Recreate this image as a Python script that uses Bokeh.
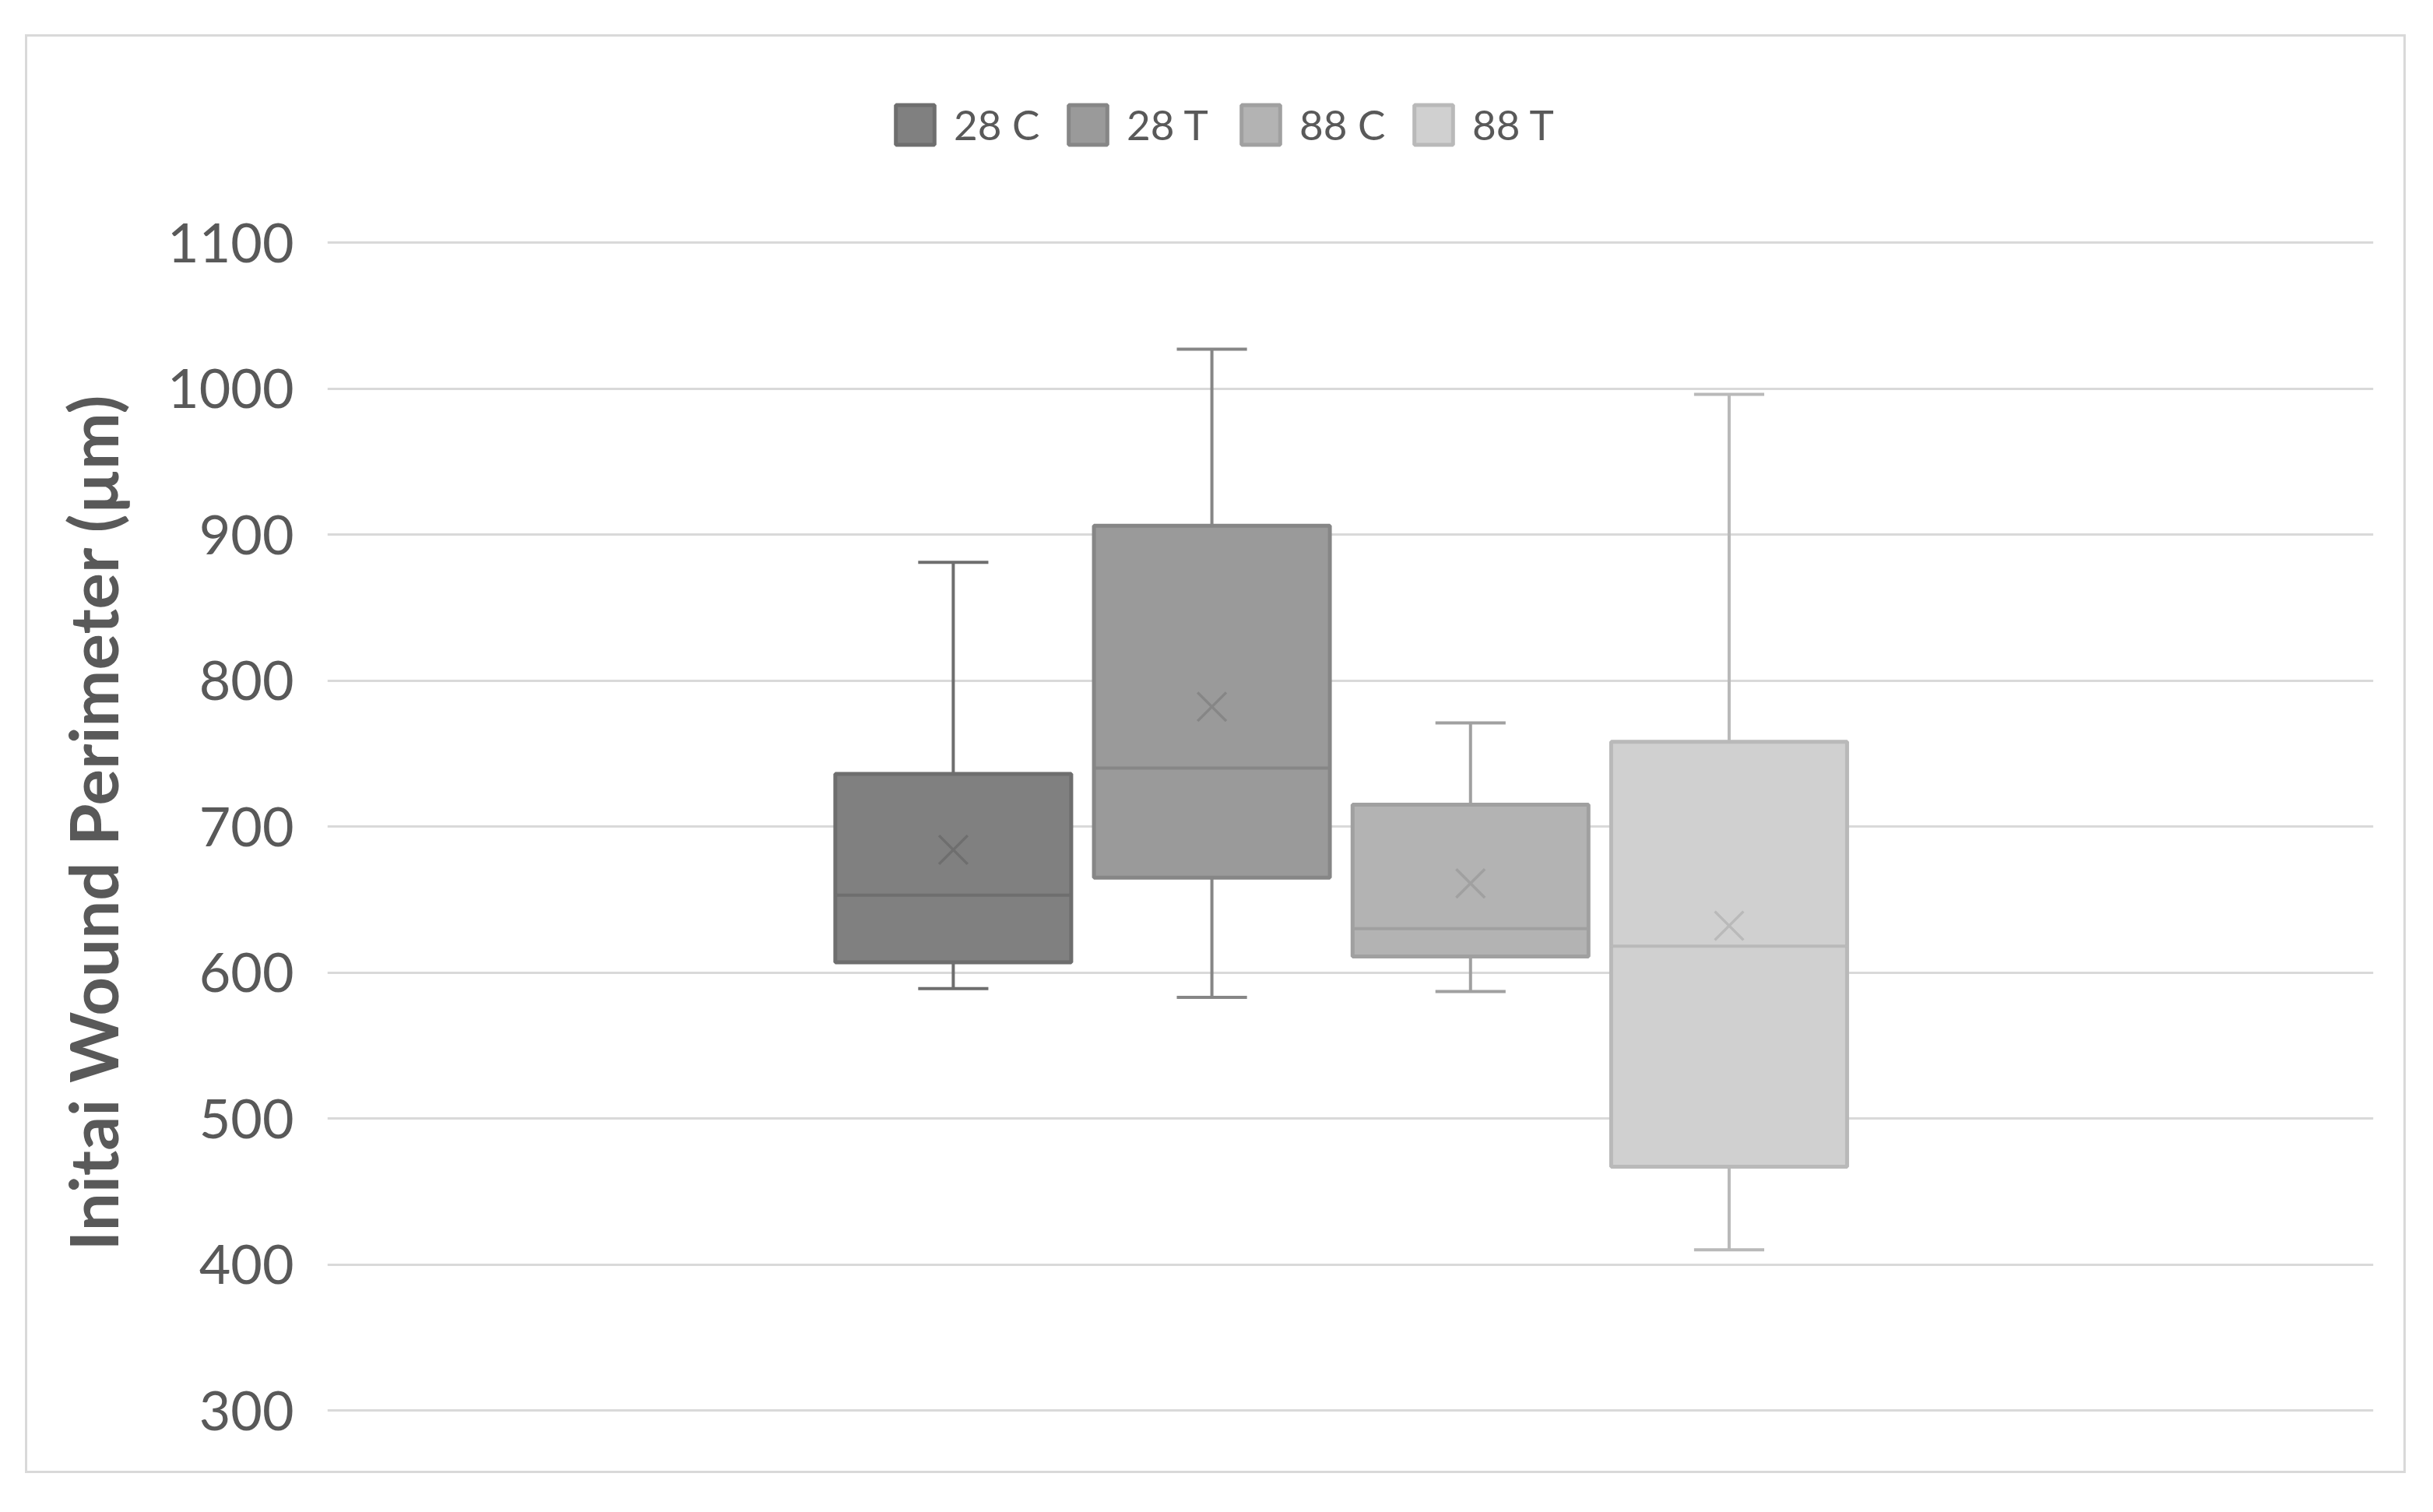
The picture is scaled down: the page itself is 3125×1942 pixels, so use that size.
from bokeh.plotting import figure
from bokeh.models import Range1d, FixedTicker, Legend, LegendItem, InlineStyleSheet, Title
from bokeh.embed import file_html
from bokeh.resources import INLINE

# ---- data ----
categories = ["28 C", "28 T", "88 C", "88 T"]
whisker_low = [589, 583, 587, 410]
q1 = [607, 665, 611, 467]
median = [653, 740, 630, 618]
q3 = [736, 906, 715, 758]
whisker_high = [881, 1027, 771, 996]
mean = [684, 782, 661, 632]
y_ticks = [300, 400, 500, 600, 700, 800, 900, 1000, 1100]
y_title = "Initai Wound Perimeter (µm)"

# ---- styles ----
fill_colors = ["#808080", "#9a9a9a", "#b3b3b3", "#d0d0d0"]
line_colors = ["#6e6e6e", "#868686", "#a0a0a0", "#b9b9b9"]
FONT = "Lato"
TXT = "#595959"

W, H = 3109, 1926
FL, FR, FT, FB = 420, 3048, 100, 1813      # frame edges in pixels
Y_TOP_PX, Y_BOT_PX = 311, 1811              # pixel rows of 1100 and 300
ppu = (Y_BOT_PX - Y_TOP_PX) / 800.0
y0 = 300 - (FB - Y_BOT_PX) / ppu
y1 = 1100 + (Y_TOP_PX - FT) / ppu

p = figure(width=W, height=H, output_backend="svg", toolbar_location=None,
           title_location=None,
           x_range=Range1d(0, 1), y_range=Range1d(y0, y1),
           min_border_left=FL, min_border_right=W - FR,
           min_border_top=FT, min_border_bottom=H - FB)
p.background_fill_color = "white"
p.border_fill_color = "white"
p.outline_line_color = None
p.xaxis.visible = False
p.xgrid.visible = False
p.ygrid.grid_line_color = "#d9d9d9"
p.ygrid.grid_line_width = 3

ax = p.yaxis[0]
ax.ticker = FixedTicker(ticks=y_ticks)
ax.axis_line_color = None
ax.major_tick_line_color = None
ax.minor_tick_line_color = None
ax.major_tick_in = 0
ax.major_tick_out = 0
ax.major_label_standoff = 43
ax.major_label_text_font = FONT
ax.major_label_text_font_size = "70px"
ax.major_label_text_color = TXT

# y-axis title, placed to sit centred on the 300-1100 plot area
p.add_layout(Title(text=y_title, align="left", offset=207, standoff=84,
                   text_font=FONT, text_font_size="87px", text_font_style="bold",
                   text_color=TXT), "left")

center0, pitch, box_w, cap_w = 0.4955, 0.1264, 0.1153, 0.0343

items = []
for i, cat in enumerate(categories):
    c = center0 + (i - 1.5) * pitch
    lc = line_colors[i]
    r = p.quad(left=[c - box_w / 2], right=[c + box_w / 2], bottom=[q1[i]], top=[q3[i]],
               fill_color=fill_colors[i], line_color=lc, line_width=5)
    p.segment(x0=[c - box_w / 2], x1=[c + box_w / 2], y0=[median[i]], y1=[median[i]],
              line_color=lc, line_width=4)
    p.segment(x0=[c, c], x1=[c, c], y0=[q3[i], q1[i]], y1=[whisker_high[i], whisker_low[i]],
              line_color=lc, line_width=4)
    p.segment(x0=[c - cap_w / 2, c - cap_w / 2], x1=[c + cap_w / 2, c + cap_w / 2],
              y0=[whisker_high[i], whisker_low[i]], y1=[whisker_high[i], whisker_low[i]],
              line_color=lc, line_width=4)
    p.scatter(x=[c], y=[mean[i]], marker="x", size=52, line_color=lc, line_width=3.5)
    items.append(LegendItem(label=cat, renderers=[r]))

legend = Legend(items=items, orientation="horizontal", location=(724, FB - 191.5),
                glyph_width=62, glyph_height=64, label_height=64, label_width=141,
                label_standoff=19, spacing=0, padding=0, margin=0,
                border_line_color=None, background_fill_alpha=0,
                label_text_font=FONT, label_text_font_size="53px", label_text_color=TXT)
p.add_layout(legend)

# faint outer chart border (decoration only)
p.stylesheets = [InlineStyleSheet(css="""
:host::after {
  content: "";
  position: absolute;
  left: 32px; top: 44px; width: 3058px; height: 1848px;
  box-sizing: border-box;
  border: 3px solid #d9d9d9;
  pointer-events: none;
}
""")]

open("out.html", "w").write(file_html(p, INLINE))
